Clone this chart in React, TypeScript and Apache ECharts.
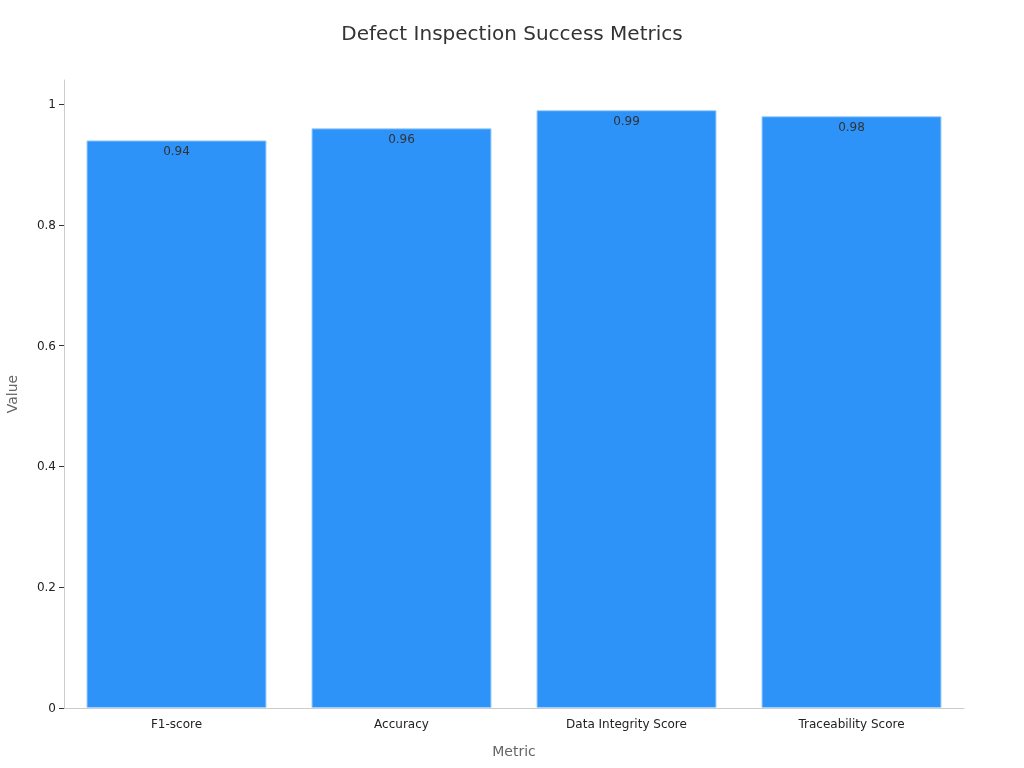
import React, { useEffect, useRef } from 'react';
import * as echarts from 'echarts';

const categories = ['F1-score', 'Accuracy', 'Data Integrity Score', 'Traceability Score'];
const values = [0.94, 0.96, 0.99, 0.98];
const yTicks = [0, 0.2, 0.4, 0.6, 0.8, 1];

const App: React.FC = () => {
  const chartRef = useRef<HTMLDivElement>(null);

  useEffect(() => {
    const myChart = echarts.init(chartRef.current!, null, { renderer: 'svg' });
    const font = 'DejaVu Sans';

    const option = {
      animation: false,
      textStyle: { fontFamily: font },
      title: {
        text: 'Defect Inspection Success Metrics',
        left: 'center',
        top: 18,
        textStyle: { fontSize: 20, fontWeight: 'normal', color: '#333', fontFamily: font },
      },
      grid: { left: 64, right: 60, top: 80, bottom: 60, outerBoundsMode: 'none', containLabel: false },
      xAxis: {
        type: 'category',
        data: categories,
        name: 'Metric',
        nameLocation: 'middle',
        nameGap: 36,
        nameTextStyle: { fontSize: 14, color: '#666' },
        axisLine: { lineStyle: { color: '#ccc' } },
        axisTick: { alignWithLabel: true, lineStyle: { color: '#333' } },
        axisLabel: { color: '#222', fontSize: 12, margin: 10 },
      },
      yAxis: {
        type: 'value',
        min: 0,
        max: 1.04,
        name: 'Value',
        nameLocation: 'middle',
        nameGap: 45,
        nameTextStyle: { fontSize: 14, color: '#666' },
        splitLine: { show: false },
        axisLine: { show: true, lineStyle: { color: '#ccc' } },
        axisTick: { show: true, customValues: yTicks, lineStyle: { color: '#333' } },
        axisLabel: { color: '#222', fontSize: 12, customValues: yTicks },
      },
      series: [
        {
          type: 'bar',
          data: values,
          barCategoryGap: '20%',
          itemStyle: { color: '#2e93f9', borderColor: '#9fd0ff', borderWidth: 1 },
          label: {
            show: true,
            position: 'insideTop',
            distance: 5,
            color: '#333',
            fontSize: 12,
          },
        },
      ],
    };

    myChart.setOption(option);

    return () => {
      myChart.dispose();
    };
  }, []);

  return (
    <div
      ref={chartRef}
      style={{ position: 'fixed', left: 0, top: 0, width: '1024px', height: '768px' }}
    />
  );
};

export default App;
